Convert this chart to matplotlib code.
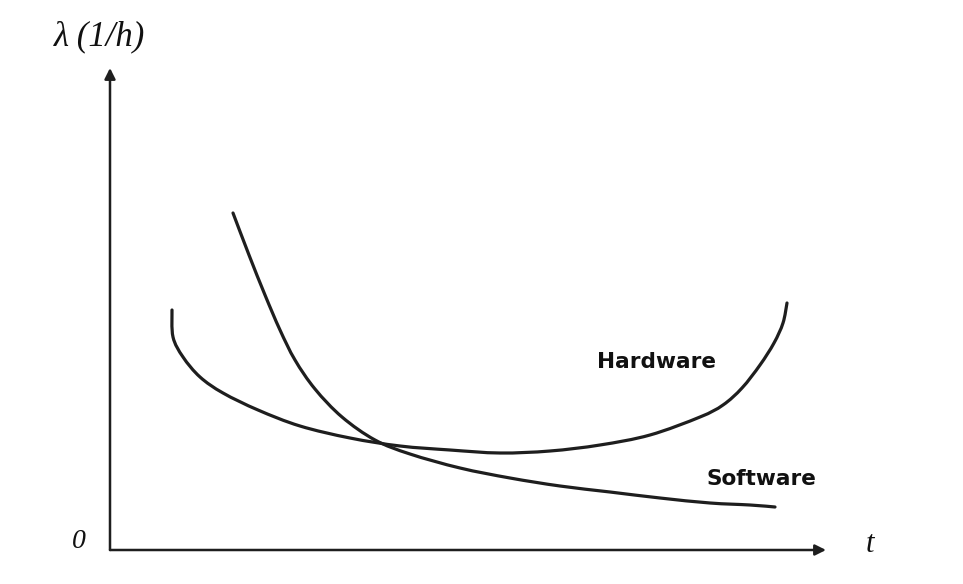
import numpy as np
import matplotlib
matplotlib.use("Agg")
import matplotlib.pyplot as plt
from matplotlib.path import Path
from matplotlib.patches import PathPatch

# values, arbitrary units (t right of origin, lambda above axis)
hw_t = [62, 63, 73, 90, 113, 148, 190, 240, 290, 340, 390, 440, 490, 540,
        590, 613, 632, 650, 664, 673, 677]
hw_lam = [240, 213, 193, 173, 157, 140, 124, 112, 104, 100, 97, 99, 105, 115,
          133, 145, 162, 185, 207, 227, 247]

sw_t = [123, 139, 155, 170, 185, 205, 232, 265, 300, 350, 400, 450, 500, 550,
        600, 640, 665]
sw_lam = [337, 295, 255, 220, 190, 161, 133, 110, 96, 82, 72, 64, 58, 52,
          47, 45, 43]

t_end, lam_end = 716, 482
ink = "#1e1e1e"


def smooth_path(xs, ys):
    # Catmull-Rom through the points, drawn as cubic Bezier segments
    p = np.column_stack([xs, ys]).astype(float)
    verts = [p[0]]
    codes = [Path.MOVETO]
    n = len(p)
    for i in range(n - 1):
        p0 = p[max(i - 1, 0)]
        p1, p2 = p[i], p[i + 1]
        p3 = p[min(i + 2, n - 1)]
        verts += [p1 + (p2 - p0) / 6, p2 - (p3 - p1) / 6, p2]
        codes += [Path.CURVE4] * 3
    return Path(verts, codes)


fig = plt.figure(figsize=(9.63, 5.84), dpi=100)
ax = fig.add_axes([0, 0, 1, 1])
ax.set_xlim(-110, 853)
ax.set_ylim(-34, 550)
ax.axis("off")

# axes with arrowheads
ax.annotate("", xy=(t_end, 0), xytext=(0, 0),
            arrowprops=dict(arrowstyle="-|>", color=ink, lw=1.8, mutation_scale=16,
                            shrinkA=0, shrinkB=0))
ax.annotate("", xy=(0, lam_end), xytext=(0, 0),
            arrowprops=dict(arrowstyle="-|>", color=ink, lw=1.8, mutation_scale=16,
                            shrinkA=0, shrinkB=0))

for xs, ys in [(hw_t, hw_lam), (sw_t, sw_lam)]:
    ax.add_patch(PathPatch(smooth_path(xs, ys), facecolor="none", edgecolor=ink,
                           lw=2.3, capstyle="round", joinstyle="round"))

ax.text(487, 188, "Hardware", fontsize=15.6, fontweight="bold", color="#111",
        ha="left", va="center")
ax.text(596, 71, "Software", fontsize=15.6, fontweight="bold", color="#111",
        ha="left", va="center")

serif = dict(family="Liberation Serif", style="italic", color="#111")
ax.text(-10, 513, "λ (1/h)", fontsize=25, ha="center", va="center", **serif)
ax.text(-31, 9, "0", fontsize=20, ha="center", va="center", **serif)
ax.text(760, 5, "t", fontsize=22, ha="center", va="center", **serif)

fig.savefig("out.png", dpi=100)
